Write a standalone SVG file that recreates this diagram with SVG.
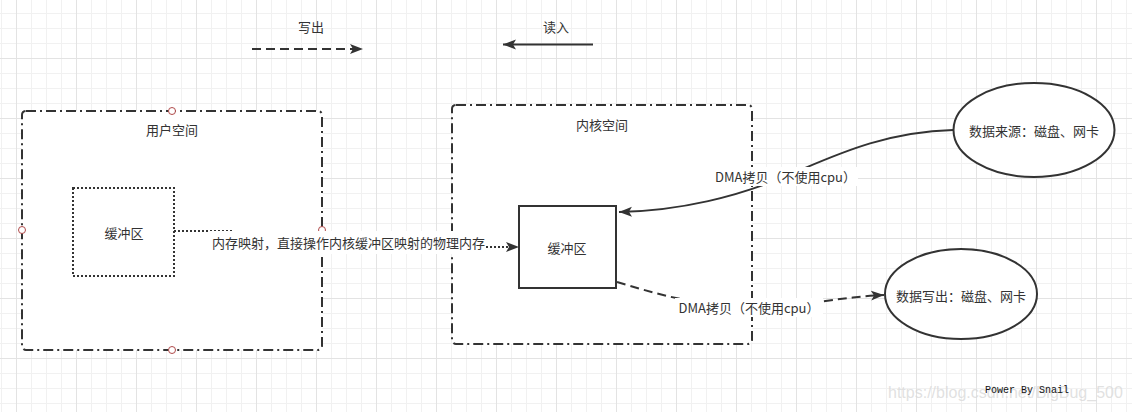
<svg xmlns="http://www.w3.org/2000/svg" width="1132" height="412" viewBox="0 0 1132 412">
<style>
  .t { font-family: "Noto Sans CJK SC", "Liberation Sans", sans-serif; font-size: 13px; fill: #333333; text-anchor: middle; dominant-baseline: central; }
  .box { fill: #ffffff; stroke: #333333; stroke-width: 2; }
  .container { stroke-dasharray: 10 4 2 4; }
  .dotted { stroke-dasharray: 2 2; }
  .edge { fill: none; stroke: #333333; stroke-width: 2; }
  .dashed { stroke-dasharray: 9 5; }
  .lbl { fill: #ffffff; }
  .cp { fill: #ffffff; stroke: #b04a4a; stroke-width: 1; }
</style>
<defs>
  <pattern id="grid" width="60" height="60" patternUnits="userSpaceOnUse" x="16" y="58">
    <path d="M15.5 0V60M30.5 0V60M45.5 0V60M0 15.5H60M0 30.5H60M0 45.5H60" stroke="#f1f1f1" stroke-width="1" fill="none"/>
    <path d="M0.5 0V60M0 0.5H60" stroke="#e3e3e3" stroke-width="1" fill="none"/>
  </pattern>
  <marker id="arrow" markerUnits="userSpaceOnUse" markerWidth="14" markerHeight="11" refX="13" refY="5" orient="auto" viewBox="0 0 14 10">
    <path d="M0,0 L13,5 L0,10 L3,5 Z" fill="#333333"/>
  </marker>
</defs>
<rect x="0" y="0" width="1132" height="412" fill="#ffffff"/>
<rect x="0" y="0" width="1132" height="412" fill="url(#grid)"/>

<g id="legend">
  <text class="t" x="311" y="26">写出</text>
  <path class="edge dashed" d="M252,49 H363" marker-end="url(#arrow)"/>
  <text class="t" x="556" y="26">读入</text>
  <path class="edge" d="M593,44.5 H503" marker-end="url(#arrow)"/>
</g>

<g id="user-space">
  <rect class="box container" x="22" y="111" width="300" height="239" rx="4"/>
  <text class="t" x="172" y="129">用户空间</text>
  <circle class="cp" cx="172" cy="111" r="3.5"/>
  <circle class="cp" cx="22" cy="230" r="3.5"/>
  <circle class="cp" cx="172" cy="350" r="3.5"/>
  <circle class="cp" cx="322" cy="230" r="3.5"/>
</g>

<g id="kernel-space">
  <rect class="box container" x="452" y="105" width="300" height="239" rx="4"/>
  <text class="t" x="602" y="124">内核空间</text>
</g>

<g id="user-buffer">
  <rect class="box dotted" x="73" y="188" width="101" height="88"/>
  <text class="t" x="124" y="232">缓冲区</text>
</g>

<g id="kernel-buffer">
  <rect class="box" x="519" y="206" width="97" height="82"/>
  <text class="t" x="567" y="247.5">缓冲区</text>
</g>

<g id="source">
  <ellipse class="box" cx="1034" cy="130" rx="80.5" ry="47"/>
  <text class="t" x="1034" y="130.5">数据来源：磁盘、网卡</text>
</g>

<g id="sink">
  <ellipse class="box" cx="961" cy="294" rx="76" ry="45"/>
  <text class="t" x="961" y="295.5">数据写出：磁盘、网卡</text>
</g>

<g id="connectors">
  <path class="edge dotted" d="M174,231 H232 V247 H519" marker-end="url(#arrow)"/>
  <rect class="lbl" x="210" y="231" width="276" height="23"/>
  <text class="t" x="348.5" y="242.5">内存映射，直接操作内核缓冲区映射的物理内存</text>

  <path class="edge" d="M953,130 C880,132 830,158 786,176 C740,196 680,211 619,212" marker-end="url(#arrow)"/>
  <rect class="lbl" x="712" y="167" width="146" height="19"/>
  <text class="t" x="785.5" y="176">DMA拷贝（不使用cpu）</text>

  <path class="edge dashed" d="M617,282 C650,292 700,307 749,307 C800,307 840,297 884,295" marker-end="url(#arrow)"/>
  <rect class="lbl" x="675" y="298" width="148" height="19"/>
  <text class="t" x="749" y="307">DMA拷贝（不使用cpu）</text>
</g>

<g id="footer">
  <text x="888" y="398" style="font-family: 'Liberation Sans', sans-serif; font-size: 16px; fill: #d9d9d9; fill-opacity: 0.8;">https://blog.csdn.net/BigBug_500</text>
  <text x="985" y="393" style="font-family: 'Liberation Mono', monospace; font-size: 10px; fill: #111111;">Power By Snail</text>
</g>
</svg>
